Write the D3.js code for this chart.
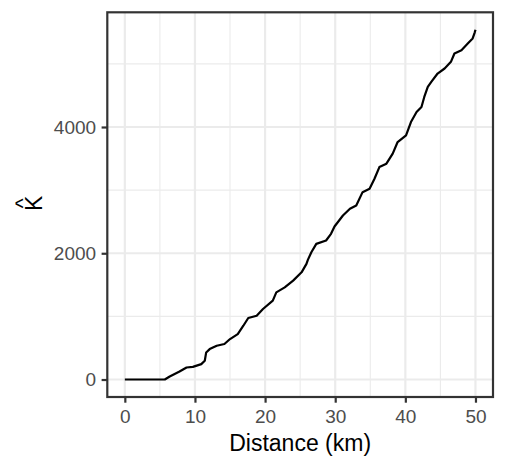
<!DOCTYPE html>
<html>
<head>
<meta charset="utf-8">
<script src="https://cdn.jsdelivr.net/npm/d3@7"></script>
<style>
  body { margin: 0; background: #fff; }
  svg text { font-family: "Liberation Sans", Arial, sans-serif; }
</style>
</head>
<body>
<svg id="chart" width="506" height="468"></svg>
<script>
// distance (km) and the K estimate
const distance = [0, 5.7, 6.4, 7.8, 8.8, 9.7, 10.9, 11.4, 11.6, 12.1, 13.1, 14.2, 15.0, 16.1, 16.9,
  17.6, 18.8, 19.7, 21.1, 21.6, 22.8, 24.0, 25.2, 25.9, 26.1, 26.6, 27.3, 28.7, 29.4, 29.9, 31.1,
  32.1, 33.0, 33.9, 34.9, 35.6, 36.3, 37.3, 38.2, 38.9, 40.1, 40.8, 41.6, 42.3, 42.7, 43.2, 43.7,
  44.6, 45.6, 46.5, 47.0, 48.0, 48.9, 49.6, 49.9, 50];
const kHat = [0, 0, 48, 127, 190, 200, 244, 297, 429, 482, 535, 562, 641, 720, 852,
  974, 1011, 1117, 1249, 1381, 1460, 1567, 1698, 1832, 1895, 2016, 2149, 2202, 2308, 2424, 2598,
  2705, 2757, 2968, 3022, 3181, 3365, 3419, 3578, 3762, 3868, 4079, 4238, 4317, 4476, 4635, 4714,
  4847, 4927, 5032, 5165, 5217, 5324, 5403, 5500, 5540];

const xTicks = [0, 10, 20, 30, 40, 50];
const xMinor = [5, 15, 25, 35, 45];
const yTicks = [0, 2000, 4000];
const yMinor = [1000, 3000, 5000];

const width = 506, height = 468;
const margin = { top: 12.3, right: 13, bottom: 71, left: 107.3 };

// ggplot style 5% expansion
function expand([lo, hi]) {
  const e = (hi - lo) * 0.05;
  return [lo - e, hi + e];
}

const x = d3.scaleLinear()
    .domain(expand(d3.extent(distance)))
    .range([margin.left, width - margin.right]);
const y = d3.scaleLinear()
    .domain(expand(d3.extent(kHat)))
    .range([height - margin.bottom, margin.top]);

const svg = d3.select("#chart");
const grid = svg.append("g");

grid.selectAll(".xminor").data(xMinor).join("line")
    .attr("x1", d => x(d)).attr("x2", d => x(d))
    .attr("y1", margin.top).attr("y2", height - margin.bottom)
    .attr("stroke", "#ebebeb").attr("stroke-width", 1.1);
grid.selectAll(".yminor").data(yMinor).join("line")
    .attr("y1", d => y(d)).attr("y2", d => y(d))
    .attr("x1", margin.left).attr("x2", width - margin.right)
    .attr("stroke", "#ebebeb").attr("stroke-width", 1.1);
grid.selectAll(".xmajor").data(xTicks).join("line")
    .attr("x1", d => x(d)).attr("x2", d => x(d))
    .attr("y1", margin.top).attr("y2", height - margin.bottom)
    .attr("stroke", "#ebebeb").attr("stroke-width", 2.2);
grid.selectAll(".ymajor").data(yTicks).join("line")
    .attr("y1", d => y(d)).attr("y2", d => y(d))
    .attr("x1", margin.left).attr("x2", width - margin.right)
    .attr("stroke", "#ebebeb").attr("stroke-width", 2.2);

const line = d3.line()
    .x((d, i) => x(distance[i]))
    .y(d => y(d));

svg.append("path")
    .datum(kHat)
    .attr("fill", "none")
    .attr("stroke", "#000")
    .attr("stroke-width", 2.2)
    .attr("stroke-linejoin", "round")
    .attr("d", line);

svg.append("rect")
    .attr("x", margin.left).attr("y", margin.top)
    .attr("width", width - margin.left - margin.right)
    .attr("height", height - margin.top - margin.bottom)
    .attr("fill", "none").attr("stroke", "#333").attr("stroke-width", 2.2);

const xAxis = d3.axisBottom(x).tickValues(xTicks).tickFormat(d3.format("d"))
    .tickSize(5.7).tickPadding(6.5).tickSizeOuter(0);
const yAxis = d3.axisLeft(y).tickValues(yTicks).tickFormat(d3.format("d"))
    .tickSize(5.7).tickPadding(5.5).tickSizeOuter(0);

function styleAxis(g) {
  g.select(".domain").remove();
  g.selectAll(".tick line").attr("stroke", "#333").attr("stroke-width", 2.2);
  g.selectAll(".tick text").attr("fill", "#4d4d4d")
      .style("font-size", "19px")
      .style("font-family", "Liberation Sans, Arial, sans-serif");
}

svg.append("g")
    .attr("transform", `translate(0,${height - margin.bottom})`)
    .call(xAxis)
    .call(styleAxis);

svg.append("g")
    .attr("transform", `translate(${margin.left},0)`)
    .call(yAxis)
    .call(styleAxis);

svg.append("text")
    .attr("x", (margin.left + width - margin.right) / 2)
    .attr("y", 450.7)
    .attr("text-anchor", "middle")
    .style("font-size", "23px")
    .attr("fill", "#000")
    .text("Distance (km)");

// y title: K with a hat above it, rotated
const yTitle = svg.append("g")
    .attr("transform", "translate(41.5,203.3) rotate(-90)");
yTitle.append("text")
    .attr("text-anchor", "middle")
    .style("font-size", "23px")
    .attr("fill", "#000")
    .text("K");
yTitle.append("text")
    .attr("y", -11.5)
    .attr("text-anchor", "middle")
    .style("font-size", "21px")
    .attr("fill", "#000")
    .text("^");
</script>
</body>
</html>
